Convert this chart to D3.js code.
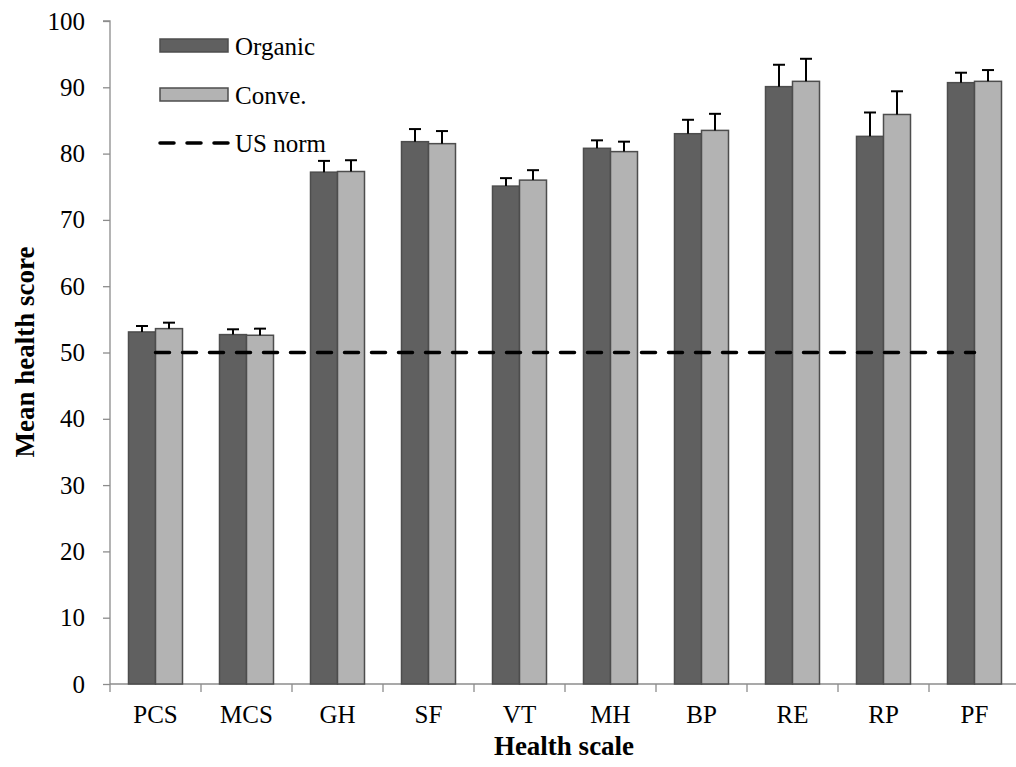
<!DOCTYPE html>
<html><head><meta charset="utf-8">
<script src="https://cdn.jsdelivr.net/npm/d3@7"></script>
<style>body{margin:0;background:#fff}svg{display:block}</style>
</head><body>
<script>
const categories = ["PCS","MCS","GH","SF","VT","MH","BP","RE","RP","PF"];
const organic = [53.1,52.7,77.2,81.8,75.1,80.8,83.0,90.1,82.6,90.7];
const organicErr = [0.9,0.8,1.7,1.9,1.2,1.2,2.1,3.3,3.6,1.5];
const conve = [53.6,52.6,77.3,81.5,76.0,80.3,83.5,90.9,85.9,90.9];
const conveErr = [0.9,1.0,1.7,1.9,1.5,1.5,2.5,3.4,3.5,1.7];
const usNorm = 50;
const yTicks = [0,10,20,30,40,50,60,70,80,90,100];

const W=1016,H=767;
const svg=d3.select("body").append("svg").attr("width",W).attr("height",H);
const font="'Liberation Serif','Times New Roman',Times,serif";
const x=d3.scaleBand().domain(categories).range([110,1020]);
const y=d3.scaleLinear().domain([0,100]).range([684,21]);
const bw=27;

// axes
const ya=svg.append("g").attr("transform","translate(110,0)").call(d3.axisLeft(y).tickValues(yTicks).tickSize(7).tickPadding(18));
ya.attr("font-family",font);
ya.selectAll("path,line").attr("stroke","#8c8c8c").attr("stroke-width",1.3);
ya.select(".domain").attr("d","M0,684V21H-7");
ya.selectAll("text").attr("font-family",font).attr("font-size",25).attr("fill","#000");

const xa=svg.append("g").attr("transform","translate(0,684)").call(d3.axisBottom(x).tickSize(0).tickPadding(21));
xa.attr("font-family",font);
xa.select(".domain").attr("stroke","#8c8c8c").attr("stroke-width",1.3).attr("d","M110,0H1016");
xa.selectAll("text").attr("font-family",font).attr("font-size",25).attr("fill","#000");
svg.append("g").selectAll("line").data(categories).join("line")
  .attr("x1",d=>x(d)).attr("x2",d=>x(d)).attr("y1",684).attr("y2",692)
  .attr("stroke","#8c8c8c").attr("stroke-width",1.3);

// bars
const series=[{v:organic,e:organicErr,fill:"#606060",off:-bw},{v:conve,e:conveErr,fill:"#b3b3b3",off:0}];
series.forEach(s=>{
  const g=svg.append("g");
  categories.forEach((c,i)=>{
    const cx=x(c)+x.bandwidth()/2+s.off;
    g.append("rect").attr("x",cx).attr("y",y(s.v[i])).attr("width",bw).attr("height",y(0)-y(s.v[i]))
      .attr("fill",s.fill).attr("stroke","#4d4d4d").attr("stroke-width",1.5);
    const ex=cx+bw/2;
    g.append("line").attr("x1",ex).attr("x2",ex).attr("y1",y(s.v[i])).attr("y2",y(s.v[i]+s.e[i])).attr("stroke","#000").attr("stroke-width",2);
    g.append("line").attr("x1",ex-6).attr("x2",ex+6).attr("y1",y(s.v[i]+s.e[i])).attr("y2",y(s.v[i]+s.e[i])).attr("stroke","#000").attr("stroke-width",2);
  });
});

// US norm line
svg.append("line").attr("x1",x(categories[0])+x.bandwidth()/2).attr("x2",x(categories[9])+x.bandwidth()/2)
  .attr("y1",y(usNorm)).attr("y2",y(usNorm)).attr("stroke","#000").attr("stroke-width",3.5)
  .attr("stroke-dasharray","14,13").attr("stroke-linecap","round");

// legend
const lg=svg.append("g");
lg.append("rect").attr("x",160).attr("y",39).attr("width",68).attr("height",13).attr("fill","#606060").attr("stroke","#4d4d4d").attr("stroke-width",1.5);
lg.append("text").attr("x",235).attr("y",55).text("Organic");
lg.append("rect").attr("x",160).attr("y",88).attr("width",68).attr("height",13).attr("fill","#b3b3b3").attr("stroke","#4d4d4d").attr("stroke-width",1.5);
lg.append("text").attr("x",235).attr("y",104).text("Conve.");
lg.append("line").attr("x1",160).attr("x2",228).attr("y1",143).attr("y2",143).attr("stroke","#000").attr("stroke-width",3.5).attr("stroke-dasharray","14,13").attr("stroke-linecap","round");
lg.append("text").attr("x",235).attr("y",152).text("US norm");
lg.selectAll("text").attr("font-family",font).attr("font-size",25).attr("fill","#000");

// titles
svg.append("text").attr("x",564).attr("y",755).attr("text-anchor","middle").attr("font-family",font).attr("font-size",27).attr("font-weight","bold").text("Health scale");
svg.append("text").attr("transform","translate(34,352) rotate(-90)").attr("text-anchor","middle").attr("font-family",font).attr("font-size",27).attr("font-weight","bold").text("Mean health score");
</script>
</body></html>
